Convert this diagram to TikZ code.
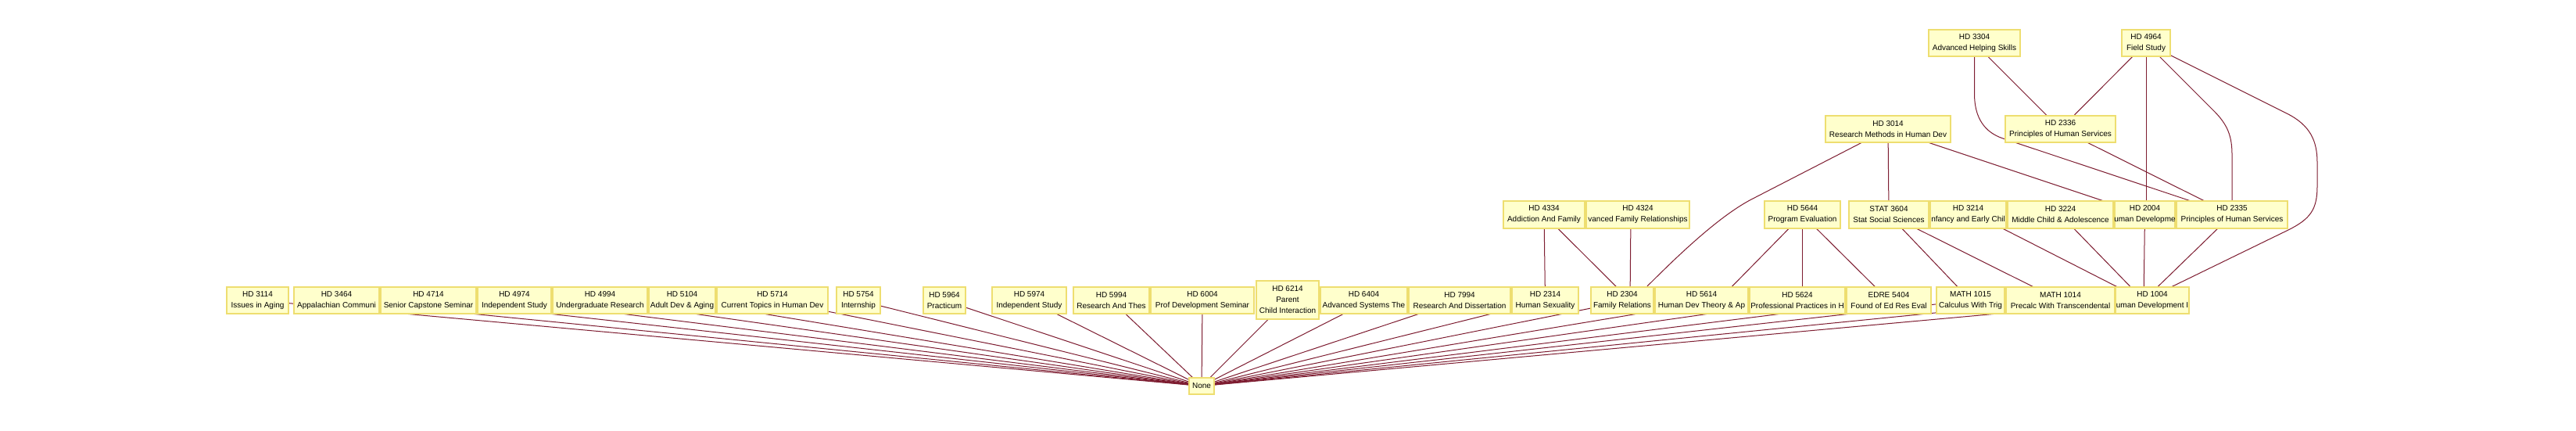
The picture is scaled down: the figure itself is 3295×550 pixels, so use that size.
\documentclass[tikz,border=0pt]{standalone}
\usepackage{fontspec}
\setmainfont{Liberation Sans}
\usetikzlibrary{backgrounds}
\definecolor{boxfill}{RGB}{255,255,204}
\definecolor{boxline}{RGB}{238,222,112}
\definecolor{edgecol}{RGB}{125,28,48}
\newcommand\mkln[1]{\makebox[0pt]{#1}}
\begin{document}
\begin{tikzpicture}[x=1pt,y=-1pt,
  crs/.style={draw=boxline, fill=boxfill, line width=2.2pt, inner sep=1pt, align=center,
    font=\fontsize{10}{14}\selectfont, minimum height=34pt},
  mid/.style={minimum height=35pt},
  lnk/.style={draw=edgecol, line width=1pt}]
\useasboundingbox (0,0) rectangle (3295,550);
% bottom row
\node[crs,minimum width=79pt]  (hd3114) at (329.5,384) {\mkln{HD 3114}\\\mkln{Issues in Aging}};
\node[crs,minimum width=109pt] (hd3464) at (430.5,384) {\mkln{HD 3464}\\\mkln{Appalachian Communi}};
\node[crs,minimum width=122pt] (hd4714) at (548,384) {\mkln{HD 4714}\\\mkln{Senior Capstone Seminar}};
\node[crs,minimum width=94pt]  (hd4974) at (658,384) {\mkln{HD 4974}\\\mkln{Independent Study}};
\node[crs,minimum width=121pt] (hd4994) at (767.5,384) {\mkln{HD 4994}\\\mkln{Undergraduate Research}};
\node[crs,minimum width=85pt]  (hd5104) at (872.5,384) {\mkln{HD 5104}\\\mkln{Adult Dev \& Aging}};
\node[crs,minimum width=142pt] (hd5714) at (988,384) {\mkln{HD 5714}\\\mkln{Current Topics in Human Dev}};
\node[crs,minimum width=56pt]  (hd5754) at (1098,384) {\mkln{HD 5754}\\\mkln{Internship}};
\node[crs,minimum width=54pt]  (hd5964) at (1208,384) {\mkln{HD 5964}\\\mkln{Practicum}};
\node[crs,minimum width=95pt]  (hd5974) at (1316.5,384) {\mkln{HD 5974}\\\mkln{Independent Study}};
\node[crs,minimum width=97pt]  (hd5994) at (1421.5,384) {\mkln{HD 5994}\\\mkln{Research And Thes}};
\node[crs,minimum width=132pt] (hd6004) at (1538,384) {\mkln{HD 6004}\\\mkln{Prof Development Seminar}};
\node[crs,minimum width=80pt,minimum height=49pt] (hd6214) at (1647,383.5) {\mkln{HD 6214}\\\mkln{Parent}\\\mkln{Child Interaction}};
\node[crs,minimum width=111pt] (hd6404) at (1744.5,384) {\mkln{HD 6404}\\\mkln{Advanced Systems The}};
\node[crs,minimum width=130pt] (hd7994) at (1867,384) {\mkln{HD 7994}\\\mkln{Research And Dissertation}};
\node[crs,minimum width=85pt]  (hd2314) at (1976.5,384) {\mkln{HD 2314}\\\mkln{Human Sexuality}};
\node[crs,minimum width=80pt]  (hd2304) at (2075,384) {\mkln{HD 2304}\\\mkln{Family Relations}};
\node[crs,minimum width=119pt] (hd5614) at (2176.5,384) {\mkln{HD 5614}\\\mkln{Human Dev Theory \& Ap}};
\node[crs,minimum width=122pt] (hd5624) at (2299,384) {\mkln{HD 5624}\\\mkln{Professional Practices in H}};
\node[crs,minimum width=108pt] (edre5404) at (2416,384) {\mkln{EDRE 5404}\\\mkln{Found of Ed Res Eval}};
\node[crs,minimum width=87pt]  (math1015) at (2520.5,384) {\mkln{MATH 1015}\\\mkln{Calculus With Trig}};
\node[crs,minimum width=139pt] (math1014) at (2635.5,384) {\mkln{MATH 1014}\\\mkln{Precalc With Transcendental}};
\node[crs,minimum width=94pt]  (hd1004) at (2753,384) {\mkln{HD 1004}\\\mkln{uman Development I}};
% middle row
\node[crs,mid,minimum width=104pt] (hd4334) at (1975,274.5) {\mkln{HD 4334}\\\mkln{Addiction And Family}};
\node[crs,mid,minimum width=132pt] (hd4324) at (2095,274.5) {\mkln{HD 4324}\\\mkln{vanced Family Relationships}};
\node[crs,mid,minimum width=97pt]  (hd5644) at (2305.5,274.5) {\mkln{HD 5644}\\\mkln{Program Evaluation}};
\node[crs,mid,minimum width=102pt] (stat3604) at (2416,274.5) {\mkln{STAT 3604}\\\mkln{Stat Social Sciences}};
\node[crs,mid,minimum width=97pt]  (hd3214) at (2517.5,274.5) {\mkln{HD 3214}\\\mkln{nfancy and Early Chil}};
\node[crs,mid,minimum width=135pt] (hd3224) at (2635.5,274.5) {\mkln{HD 3224}\\\mkln{Middle Child \& Adolescence}};
\node[crs,mid,minimum width=77pt]  (hd2004) at (2743.5,274.5) {\mkln{HD 2004}\\\mkln{uman Developme}};
\node[crs,mid,minimum width=142pt] (hd2335) at (2855,274.5) {\mkln{HD 2335}\\\mkln{Principles of Human Services}};
% upper rows
\node[crs,minimum width=160pt] (hd3014) at (2415,165) {\mkln{HD 3014}\\\mkln{Research Methods in Human Dev}};
\node[crs,minimum width=141pt] (hd2336) at (2635.5,165) {\mkln{HD 2336}\\\mkln{Principles of Human Services}};
\node[crs,minimum width=117pt] (hd3304) at (2525.5,55) {\mkln{HD 3304}\\\mkln{Advanced Helping Skills}};
\node[crs,minimum width=62pt]  (hd4964) at (2745,55) {\mkln{HD 4964}\\\mkln{Field Study}};
% root
\node[crs,minimum width=32pt,minimum height=21pt] (none) at (1537,493.5) {None};
% true centres of partly covered boxes
\coordinate (t2304) at ([xshift=10pt]hd2304.center);
\coordinate (t5614) at ([xshift=21.5pt]hd5614.center);
\coordinate (t5624) at ([xshift=7pt]hd5624.center);
\coordinate (t1004) at ([xshift=-11pt]hd1004.center);
\coordinate (t6404) at ([xshift=8pt]hd6404.center);
\coordinate (t4324) at ([xshift=-9pt]hd4324.center);
\coordinate (t3214) at ([xshift=9.5pt]hd3214.center);
\begin{scope}[on background layer]
\fill[white] (0,0) rectangle (3295,550);
\foreach \n in {hd3114,hd3464,hd4714,hd4974,hd4994,hd5104,hd5714,hd5754,hd5964,hd5974,hd5994,hd6004,hd6214,hd7994,hd2314,math1015,math1014,edre5404}
  \draw[lnk] (\n.center) -- (none.center);
\foreach \n in {t2304,t5614,t5624,t1004,t6404}
  \draw[lnk] (\n) -- (none.center);
\draw[lnk] (hd4334.center) -- (hd2314.center);
\draw[lnk] (hd4334.center) -- (t2304);
\draw[lnk] (t4324) -- (t2304);
\draw[lnk] (hd3014.center) -- (2240,255) .. controls (2196,278) and (2140,333) .. ([xshift=32pt]hd2304.north);
\draw[lnk] (hd5644.center) -- (t5614);
\draw[lnk] (hd5644.center) -- (hd5644.center |- t5624);
\draw[lnk] (hd5644.center) -- (edre5404.center);
\draw[lnk] (stat3604.center) -- (math1015.center);
\draw[lnk] (stat3604.center) -- (math1014.center);
\draw[lnk] (t3214) -- (t1004);
\draw[lnk] (hd3224.center) -- (t1004);
\draw[lnk] (hd2004.center) -- (t1004);
\draw[lnk] (hd2335.center) -- (t1004);
\draw[lnk] (hd3014.center) -- (stat3604.center);
\draw[lnk] (hd3014.center) -- (hd2004.center);
\draw[lnk] (hd3304.center) -- (hd2336.center);
\draw[lnk] (hd4964.center) -- (hd2336.center);
\draw[lnk] (hd2336.center) -- (hd2335.center);
\draw[lnk] (hd4964.center) -- (hd4964.center |- hd2004.center);
\draw[lnk] (hd3304.center) -- (2525.5,120) .. controls (2525.5,150) and (2538,169) .. (2562,177) -- (hd2335.center);
\draw[lnk] (hd4964.center) -- (2832,142) .. controls (2850,160) and (2855,175) .. (2855,198) -- (hd2335.center);
\draw[lnk] (hd4964.center) -- (2925,145) .. controls (2955,160) and (2964,180) .. (2964,208) -- (2964,238) .. controls (2964,268) and (2955,280) .. (2927,294) -- (t1004);
\end{scope}
\end{tikzpicture}
\end{document}
